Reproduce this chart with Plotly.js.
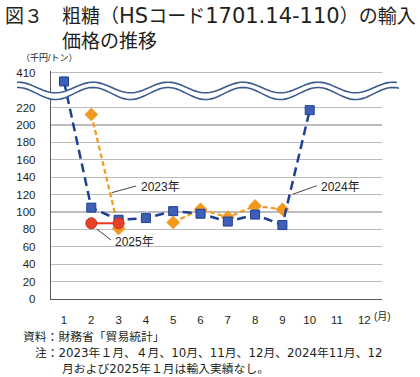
<!DOCTYPE html>
<html>
<head>
<meta charset="utf-8">
<script src="https://cdn.plot.ly/plotly-3.0.1.min.js"></script>
<style>html,body{margin:0;padding:0;background:#fff;}#chart{width:420px;height:377px;}</style>
</head>
<body>
<div id="chart"></div>
<script>
// ---- data ----
var months = [1,2,3,4,5,6,7,8,9,10,11,12];
var monthLabels = ['1','2','3','4','5','6','7','8','9','10','11','12'];
var y2024 = [400,105,91,93,101,98,89,97,85,217,null,null];
var y2023 = [null,212,81,null,88,103,94,107,103,null,null,null];
var y2025 = [null,87,87,null,null,null,null,null,null,null,null,null];
var yTickVals = [0,20,40,60,80,100,120,140,160,180,200,220,410];

// axis break: values above 240 are drawn shifted down by 150 (410 -> 260)
function brk(v){ return v == null ? null : (v > 240 ? v - 150 : v); }

var FONT = 'Liberation Sans, Noto Sans CJK JP, sans-serif';
var FONT2 = 'DejaVu Sans, Noto Sans CJK JP, sans-serif';
var W = 420, H = 377, L = 51, R = 38, T = 71, B = 78;
var PW = W - L - R, PH = H - T - B;
function X(px){ return (px - L) / PW; }
function Y(py){ return (H - B - py) / PH; }

var traces = [
  {x: months, y: y2023.map(brk), type:'scatter', mode:'lines+markers', connectgaps:false,
   line:{color:'#f39a1e', width:2.2, dash:'5px,3px'},
   marker:{symbol:'diamond', size:10, color:'#f39a1e', line:{color:'#e88a10', width:0.5}}, hoverinfo:'skip'},
  {x: months, y: y2024.map(brk), type:'scatter', mode:'lines+markers', connectgaps:false,
   line:{color:'#1f3f95', width:2.5, dash:'9px,5px'},
   marker:{symbol:'square', size:9, color:'#3d5fb5', line:{color:'#1f3f95', width:1}}, hoverinfo:'skip'},
  {x: months, y: y2025.map(brk), type:'scatter', mode:'lines+markers', connectgaps:false,
   line:{color:'#e8381e', width:2},
   marker:{symbol:'circle', size:11, color:'#e8412a', line:{color:'#c63218', width:1}}, hoverinfo:'skip'}
];

// wavy break band
function wave(cy, amp, x0, x1){
  var pts = [];
  for (var px = x0; px <= x1; px += 2){
    pts.push([px, cy - amp*Math.cos(2*Math.PI*(px-93)/75)]);
  }
  return pts;
}
var up = wave(87.5, 5.3, 17, 397);
var lo = wave(93.5, 6.0, 17, 399);
function toPath(pts){ return pts.map(function(p,i){ return (i? 'L':'M') + X(p[0]).toFixed(4) + ',' + Y(p[1]).toFixed(4); }).join(' '); }
var fillPath = toPath(up) + ' ' + lo.slice().reverse().map(function(p){ return 'L' + X(p[0]).toFixed(4) + ',' + Y(p[1]).toFixed(4); }).join(' ') + ' Z';

var shapes = [
  {type:'path', xref:'paper', yref:'paper', path: fillPath, fillcolor:'#ffffff', line:{width:0}, layer:'above'},
  {type:'path', xref:'paper', yref:'paper', path: toPath(up), line:{color:'#3a5a8c', width:1.6}, layer:'above'},
  {type:'path', xref:'paper', yref:'paper', path: toPath(lo), line:{color:'#3a5a8c', width:1.6}, layer:'above'},
  // leader lines
  {type:'line', xref:'paper', yref:'paper', x0:X(111.7), y0:Y(192.7), x1:X(136), y1:Y(186), line:{color:'#444', width:1}},
  {type:'line', xref:'paper', yref:'paper', x0:X(292.7), y0:Y(194.3), x1:X(316.7), y1:Y(185.7), line:{color:'#444', width:1}},
  {type:'line', xref:'paper', yref:'paper', x0:X(96.7), y0:Y(229), x1:X(111), y1:Y(240), line:{color:'#444', width:1}}
];

function ann(text, px, py, size, family, extra){
  var a = {text:text, xref:'paper', yref:'paper', x:X(px), y:Y(py), xanchor:'left', yanchor:'middle',
           showarrow:false, align:'left', font:{family:family || FONT, size:size, color:'#231f20'}};
  for (var k in extra) a[k] = extra[k];
  return a;
}
var titleText = '図３　粗糖（<span style="font-size:21px">HS</span>コード<span style="font-size:21px">1701.14-110</span>）の輸入<br>　　　価格の推移';
var annotations = [
  ann(titleText, 3, 2, 19, FONT2, {yanchor:'top'}),
  ann('（千円/トン）', 19, 58, 9),
  ann('2023年', 139, 187, 12),
  ann('2024年', 319, 187, 12),
  ann('2025年', 113, 242, 12),
  ann('(月)', 372, 316, 10),
  ann('資料：財務省「貿易統計」', 21, 337, 11.8, FONT2),
  ann('注：2023年１月、４月、10月、11月、12月、2024年11月、12', 33, 353, 11.8, FONT2),
  ann('月および2025年１月は輸入実績なし。', 60, 369, 11.8, FONT2)
];

var layout = {
  width: W, height: H,
  margin:{l:L, r:R, t:T, b:B, pad:0},
  paper_bgcolor:'#ffffff', plot_bgcolor:'#ffffff',
  showlegend:false,
  xaxis:{range:[0.524, 12.648], tickvals: months, ticktext: monthLabels, showgrid:false, zeroline:false,
         showline:true, linecolor:'#595959', linewidth:1.2, ticks:'', ticklabelstandoff:10,
         tickfont:{family:FONT, size:11.5, color:'#231f20'}, fixedrange:true},
  yaxis:{range:[0, 262], tickvals: yTickVals.map(brk), ticktext: yTickVals.map(String), showgrid:true,
         gridcolor:'#bdbdbd', gridwidth:1.3, zeroline:false,
         showline:true, linecolor:'#595959', linewidth:1.2, ticks:'', ticklabelstandoff:12,
         tickfont:{family:FONT, size:11.5, color:'#231f20'}, fixedrange:true},
  shapes: shapes,
  annotations: annotations
};

Plotly.newPlot('chart', traces, layout, {staticPlot:true, displayModeBar:false});
</script>
</body>
</html>
